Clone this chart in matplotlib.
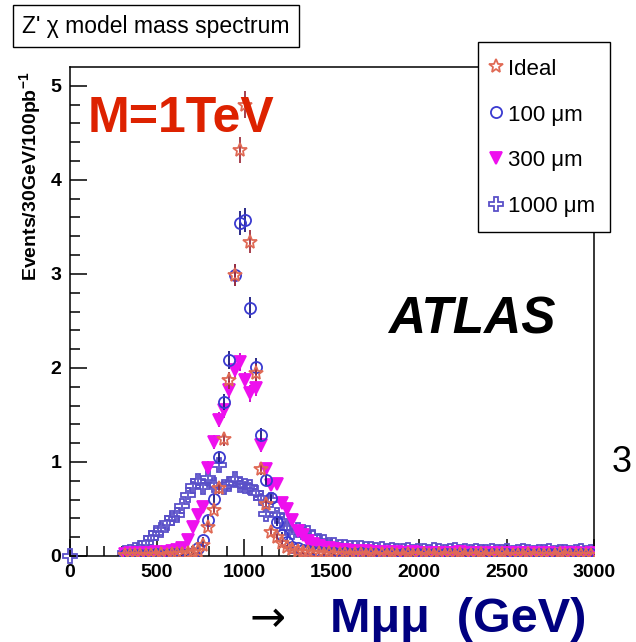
import matplotlib
matplotlib.use("Agg")
import matplotlib.pyplot as plt
import numpy as np

plt.rcParams.update({'font.family': ['Liberation Sans', 'DejaVu Sans'],
                     'font.size': 14})

# bin centres (30 GeV bins from 300 to 3000 GeV)
mass_bins = np.arange(315, 3000, 30)

ideal_vals = [0.01, 0.01, 0.01, 0.01, 0.01, 0.01, 0.01, 0.02, 0.01, 0.02,
              0.02, 0.02, 0.03, 0.04, 0.05, 0.12, 0.31, 0.49, 0.72, 1.24,
              1.87, 2.99, 4.32, 4.80, 3.34, 1.95, 0.93, 0.55, 0.26, 0.20,
              0.14, 0.10, 0.07, 0.05, 0.04, 0.04, 0.03, 0.03, 0.02, 0.03,
              0.02, 0.02, 0.02, 0.01, 0.02, 0.02, 0.01, 0.02, 0.01, 0.02,
              0.01, 0.02, 0.01, 0.01, 0.02, 0.01, 0.01, 0.02, 0.01, 0.01,
              0.02, 0.01, 0.01, 0.01, 0.02, 0.01, 0.01, 0.01, 0.02, 0.01,
              0.01, 0.01, 0.02, 0.01, 0.01, 0.01, 0.01, 0.02, 0.01, 0.01,
              0.01, 0.01, 0.01, 0.02, 0.01, 0.01, 0.01, 0.01, 0.01, 0.01]

um100_vals = [0.01, 0.01, 0.01, 0.01, 0.01, 0.01, 0.02, 0.01, 0.01, 0.02,
              0.02, 0.01, 0.02, 0.03, 0.09, 0.17, 0.38, 0.61, 1.05, 1.64,
              2.08, 2.99, 3.54, 3.57, 2.64, 2.01, 1.29, 0.81, 0.62, 0.36,
              0.22, 0.15, 0.10, 0.08, 0.06, 0.05, 0.04, 0.04, 0.03, 0.03,
              0.03, 0.02, 0.03, 0.02, 0.02, 0.03, 0.02, 0.02, 0.02, 0.01,
              0.02, 0.02, 0.01, 0.02, 0.02, 0.01, 0.02, 0.02, 0.01, 0.02,
              0.01, 0.02, 0.02, 0.01, 0.02, 0.01, 0.02, 0.01, 0.02, 0.01,
              0.02, 0.01, 0.02, 0.02, 0.01, 0.02, 0.01, 0.02, 0.01, 0.02,
              0.01, 0.02, 0.02, 0.01, 0.01, 0.02, 0.01, 0.02, 0.01, 0.02]

um300_vals = [0.02, 0.03, 0.02, 0.03, 0.03, 0.02, 0.04, 0.03, 0.04, 0.05,
              0.06, 0.08, 0.17, 0.31, 0.44, 0.52, 0.94, 1.21, 1.45, 1.55,
              1.77, 1.98, 2.06, 1.87, 1.73, 1.79, 1.18, 0.92, 0.76, 0.77,
              0.56, 0.50, 0.38, 0.27, 0.22, 0.16, 0.13, 0.11, 0.09, 0.08,
              0.07, 0.06, 0.06, 0.05, 0.05, 0.04, 0.05, 0.04, 0.04, 0.03,
              0.04, 0.03, 0.04, 0.03, 0.03, 0.04, 0.03, 0.03, 0.02, 0.03,
              0.03, 0.03, 0.02, 0.03, 0.04, 0.03, 0.02, 0.03, 0.03, 0.02,
              0.03, 0.02, 0.03, 0.03, 0.02, 0.03, 0.02, 0.03, 0.02, 0.03,
              0.02, 0.03, 0.02, 0.02, 0.03, 0.02, 0.03, 0.02, 0.02, 0.03]

um1000_vals = [0.03, 0.04, 0.06, 0.09, 0.14, 0.19, 0.24, 0.28, 0.35, 0.40,
               0.44, 0.53, 0.65, 0.74, 0.80, 0.73, 0.83, 0.75, 0.97, 0.73,
               0.77, 0.82, 0.75, 0.74, 0.73, 0.67, 0.62, 0.45, 0.60, 0.44,
               0.37, 0.30, 0.26, 0.28, 0.26, 0.24, 0.20, 0.16, 0.15, 0.12,
               0.12, 0.10, 0.10, 0.09, 0.08, 0.09, 0.07, 0.07, 0.06, 0.07,
               0.05, 0.06, 0.05, 0.05, 0.06, 0.04, 0.05, 0.05, 0.04, 0.06,
               0.05, 0.04, 0.05, 0.06, 0.04, 0.05, 0.04, 0.05, 0.04, 0.04,
               0.05, 0.04, 0.04, 0.05, 0.03, 0.04, 0.05, 0.04, 0.03, 0.04,
               0.04, 0.05, 0.03, 0.04, 0.04, 0.03, 0.04, 0.05, 0.03, 0.04]

# lone 1000 um entry sitting on the origin
um1000_origin_x = [0]
um1000_origin_y = [0]

event_weight = 0.0045  # per-event weight -> stat. error = sqrt(w * content)

series = [
    # label, values, marker, face, edge, error colour, size, zorder
    ('1000 \u03bcm', um1000_vals, 'P', 'none', '#5a50c8', '#5a50c8', 10, 2),
    ('300 \u03bcm', um300_vals, 'v', '#ee10ee', '#ee10ee', '#cc00cc', 8, 3),
    ('100 \u03bcm', um100_vals, 'o', 'none', '#3a3ad0', '#1a1a80', 8, 4),
    ('Ideal', ideal_vals, '*', 'none', '#e06a55', '#a03040', 10, 5),
]

fig = plt.figure(figsize=(6.36, 6.42), dpi=100)
ax = fig.add_axes([69.5 / 636, 1 - 556 / 642, 524.5 / 636, 489 / 642])

handles = {}
for label, vals, mk, fc, ec, errc, ms, z in series:
    vals = np.array(vals)
    err = np.sqrt(event_weight * vals)
    ax.errorbar(mass_bins, vals, yerr=err, fmt='none', ecolor=errc,
                elinewidth=1.3, zorder=z)
    h, = ax.plot(mass_bins, vals, linestyle='none', marker=mk, ms=ms,
                 mfc=fc, mec=ec, mew=1.3, zorder=z)
    handles[label] = h

ax.plot(um1000_origin_x, um1000_origin_y, linestyle='none', marker='P',
        ms=10, mfc='none', mec='#5a50c8', mew=1.3, clip_on=False, zorder=6)

ax.set_xlim(0, 3000)
ax.set_ylim(0, 5.2)
ax.set_xticks(np.arange(0, 3001, 500))
ax.set_xticks(np.arange(0, 3001, 100), minor=True)
ax.set_yticks(np.arange(0, 6, 1))
ax.set_yticks(np.arange(0, 5.2, 0.2), minor=True)

for sp in ax.spines.values():
    sp.set_linewidth(1.1)
ax.tick_params(which='both', direction='in', top=False, right=False, width=1.1)
ax.tick_params(which='major', length=12, labelsize=14)
ax.tick_params(which='minor', length=7)
ax.tick_params(axis='y', pad=6)
ax.tick_params(axis='x', pad=6)
for t in ax.get_xticklabels() + ax.get_yticklabels():
    t.set_fontweight('bold')

# y axis title, ROOT style aligned to the top
fig.text(31 / 636, 1 - 72 / 642, 'Events/30GeV/100pb$^{\\mathregular{-1}}$',
         rotation=90, ha='center', va='top', fontsize=14, fontweight='bold')

# histogram title box
fig.text(22 / 636, 1 - 26 / 642, "Z' \u03c7 model mass spectrum", fontsize=16.5,
         ha='left', va='center',
         bbox=dict(boxstyle='square,pad=0.4', fc='white', ec='black', lw=1))

fig.text(88 / 636, 1 - 119 / 642, 'M=1TeV', color='#dd2200', fontsize=36,
         fontweight='bold', ha='left', va='center')
fig.text(472 / 636, 1 - 320 / 642, 'ATLAS', fontsize=37, fontweight='bold',
         fontstyle='italic', ha='center', va='center')
fig.text(622 / 636, 1 - 463 / 642, '3', fontsize=26, ha='center', va='center')

fig.text(267 / 636, 1 - 619 / 642, '\u2192', fontsize=31, ha='center',
         va='center', family=['DejaVu Sans'])
fig.text(330 / 636, 1 - 620 / 642, 'M\u03bc\u03bc  (GeV)', color='#000080',
         fontsize=35, fontweight='bold', ha='left', va='center')

order = ['Ideal', '100 \u03bcm', '300 \u03bcm', '1000 \u03bcm']
leg = ax.legend([handles[k] for k in order], order, loc='upper left',
                bbox_to_anchor=(478 / 636, 1 - 42 / 642),
                bbox_transform=fig.transFigure, fancybox=False,
                edgecolor='black', framealpha=1, fontsize=16,
                labelspacing=1.05, handlelength=0.3, handleheight=1.0,
                handletextpad=0.38, borderpad=0.68, borderaxespad=0,
                numpoints=1)
leg.get_frame().set_linewidth(1.0)
leg.set_zorder(10)

fig.savefig('out.png', dpi=100)
